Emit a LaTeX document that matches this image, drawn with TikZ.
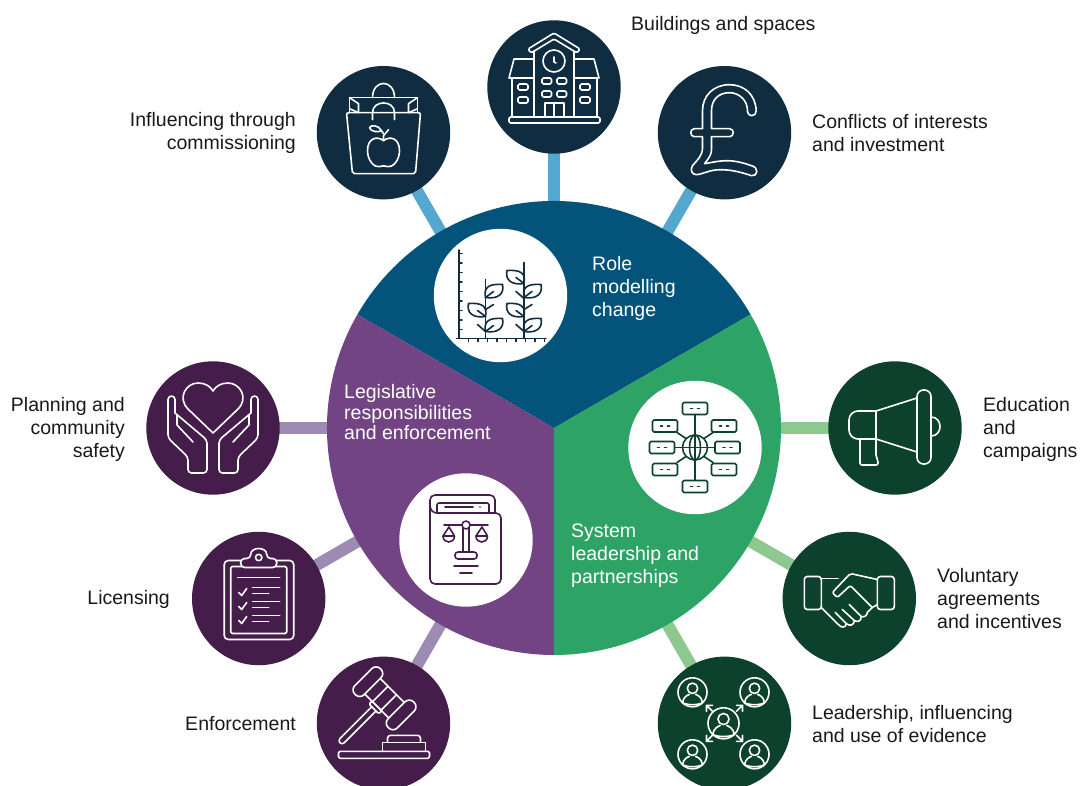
\documentclass[tikz,border=0pt]{standalone}
\usepackage{fontspec}
\setmainfont{Liberation Sans}
\usetikzlibrary{backgrounds}

\definecolor{rolehub}{HTML}{04537B}
\definecolor{rolesat}{HTML}{0F2C40}
\definecolor{rolelink}{HTML}{54A8CF}
\definecolor{lawhub}{HTML}{734484}
\definecolor{lawsat}{HTML}{451D4A}
\definecolor{lawlink}{HTML}{9E8BB3}
\definecolor{syshub}{HTML}{2EA366}
\definecolor{syssat}{HTML}{0C412D}
\definecolor{syslink}{HTML}{8DC88F}

\tikzset{
  sat/.style={circle, fill=#1, minimum size=133.4pt, inner sep=0pt, outer sep=0pt},
  spot/.style={circle, fill=white, minimum size=133.4pt, inner sep=0pt, outer sep=0pt},
  link/.style={line width=12pt, #1},
  icon/.style={line width=1.6pt, line join=round, line cap=round, draw=#1},
  txt/.style={font=\fontsize{19.5}{23}\selectfont, text=black!90, inner sep=0pt, align=#1},
  hubtxt/.style={font=\fontsize{19.5}{#1}\selectfont, text=white, inner sep=0pt, align=left, anchor=west},
  leaf/.pic={
    \draw (0,0) .. controls (-2,-10) and (3,-14) .. (17,-13) .. controls (19,-4) and (13,2) .. (0,0);
    \draw (0,0) -- (8,-6);
  },
  person/.pic={
    \draw (0,0) circle (14.5pt);
    \draw (0,-4) circle (5.2pt);
    \draw (-10,10.5) .. controls (-9,4) and (-5,3) .. (-3,2);
    \draw (10,10.5) .. controls (9,4) and (5,3) .. (3,2);
    \draw (-10,10.5) .. controls (-5,13) and (5,13) .. (10,10.5);
  },
  tag/.pic={
    \draw[rounded corners=1.5pt, fill=white] (-12.5,-6) rectangle (12.5,6);
    \draw (-4.5,0) -- (-2.5,0) (2.5,0) -- (4.5,0);
  },
}

\begin{document}
\begin{tikzpicture}[x=1pt, y=-1pt]

\useasboundingbox (0,0) rectangle (1083,786);

\node [circle, minimum size=454pt, inner sep=0pt, outer sep=0pt] (hub) at (554,428) {};

\node [sat=rolesat] (bag) at (383.5,132.7) {};
\node [sat=rolesat] (building) at (554,87) {};
\node [sat=rolesat] (pound) at (724.5,132.7) {};
\node [sat=syssat] (megaphone) at (895,428) {};
\node [sat=syssat] (handshake) at (849.3,598.5) {};
\node [sat=syssat] (people) at (724.5,723.3) {};
\node [sat=lawsat] (gavel) at (383.5,723.3) {};
\node [sat=lawsat] (clipboard) at (258.7,598.5) {};
\node [sat=lawsat] (hands) at (213,428) {};

\begin{scope}[on background layer]
\draw [link=rolelink] (hub.center) -- (bag.center);
\draw [link=rolelink] (hub.center) -- (building.center);
\draw [link=rolelink] (hub.center) -- (pound.center);
\draw [link=syslink] (hub.center) -- (megaphone.center);
\draw [link=syslink] (hub.center) -- (handshake.center);
\draw [link=syslink] (hub.center) -- (people.center);
\draw [link=lawlink] (hub.center) -- (gavel.center);
\draw [link=lawlink] (hub.center) -- (clipboard.center);
\draw [link=lawlink] (hub.center) -- (hands.center);
\end{scope}

% the three sectors
\fill [rolehub] (hub.center) -- (hub.30) arc [start angle=30, end angle=150, radius=227pt] -- cycle;
\fill [lawhub] (hub.center) -- (hub.150) arc [start angle=150, end angle=270, radius=227pt] -- cycle;
\fill [syshub] (hub.center) -- (hub.270) arc [start angle=270, end angle=390, radius=227pt] -- cycle;

\node [spot] (plants) at (500.5,295.5) {};
\node [spot] (network) at (695,447.5) {};
\node [spot] (book) at (466,540) {};

% bag
\begin{scope}[shift={(bag.center)}, icon=white]
\draw [rounded corners=2pt] (-37,-20) -- (37,-20) -- (32,41) -- (-31,41) -- cycle;
\draw (-34,-20) -- (-34,-35) -- (34,-35) -- (34,-20);
\draw (-34,-35) -- (-25,-29) -- (-25,-20) -- (-34,-24);
\draw (34,-35) -- (25,-29) -- (25,-20) -- (34,-24);
\draw (-11,-35) .. controls (-11,-54) and (11,-54) .. (11,-35);
\draw (-11,-13) -- (-11,-20) .. controls (-11,-33) and (11,-33) .. (11,-20) -- (11,-13);
\draw (0,8) .. controls (-6,3) and (-16,5) .. (-16,18) .. controls (-16,28) and (-9,35) .. (-4,34) .. controls (-2,33) and (2,33) .. (4,34) .. controls (9,35) and (16,28) .. (16,18) .. controls (16,5) and (6,3) .. (0,8);
\draw (0,8) -- (0,3) -- (5,-3);
\draw (0,1) -- (-2,-2) .. controls (-5,-8) and (-13,-8) .. (-14,-5) .. controls (-13,-1) and (-5,0) .. (-2,-2);
\end{scope}

% building
\begin{scope}[shift={(building.center)}, icon=white]
\draw [rounded corners=1.5pt] (-45,30) rectangle (46,36);
\draw (-20,30) -- (-20,-36) (20,30) -- (20,-36);
\draw [rounded corners=1.5pt] (0,-54) -- (26,-38) -- (23,-34) -- (0,-48) -- (-23,-34) -- (-26,-38) -- cycle;
\draw (0,-26) circle (11pt);
\draw (0,-30) -- (0,-25) -- (2,-24);
\draw (-20,-28) -- (-40,-28) -- (-45,-9) -- (-20,-9);
\draw (20,-28) -- (40,-28) -- (45,-9) -- (20,-9);
\draw (-42,-9) -- (-42,30) (43,-9) -- (43,30);
\foreach \wx in {-36,26} {
  \draw [rounded corners=1.5pt] (\wx,-3) rectangle ++(10,6);
  \draw [rounded corners=1.5pt] (\wx,10) rectangle ++(10,6);
}
\foreach \wx in {-12,3} {
  \draw [rounded corners=1.5pt] (\wx,-9) rectangle ++(9.5,6);
  \draw [rounded corners=1.5pt] (\wx,4) rectangle ++(9.5,6);
}
\draw (-9,30) -- (-9,16) -- (10,16) -- (10,30) (0,16) -- (0,30);
\end{scope}

% pound
\begin{scope}[shift={(pound.center)}, icon=white]
\draw (27,-17) .. controls (30,-17) and (32,-19) .. (31.7,-22) .. controls (31,-38) and (20,-48) .. (5,-48)
  .. controls (-11,-48) and (-22,-37) .. (-22,-22) -- (-22,-4) -- (-30,-4) .. controls (-35,-4) and (-35,4) .. (-30,4) -- (-22,4) -- (-22,15)
  .. controls (-22,23) and (-27,27) .. (-32,33) .. controls (-35,38) and (-32,42) .. (-28,42)
  .. controls (-20,41) and (-15,37) .. (-4,37) .. controls (8,37) and (18,40) .. (27,43)
  .. controls (33,44) and (35,35) .. (27,33) .. controls (16,29) and (8,28) .. (3,28)
  .. controls (-6,28) and (-14,30) .. (-20,31) .. controls (-16,26) and (-13,22) .. (-13,17) -- (-13,4) -- (5,4)
  .. controls (10,4) and (10,-4) .. (5,-4) -- (-13,-4) -- (-13,-22) .. controls (-13,-33) and (-6,-40) .. (5,-40)
  .. controls (15,-40) and (23,-32) .. (23,-22) -- (23,-21) .. controls (23,-19) and (25,-17) .. (27,-17);
\end{scope}

% megaphone
\begin{scope}[shift={(megaphone.center)}, icon=white]
\draw [rounded corners=6.5pt] (22,-38) rectangle (36,36);
\draw (22,-30) -- (-19,-17) -- (-19,11) -- (22,24);
\draw [rounded corners=9pt] (-19,-17) -- (-46,-17) -- (-46,11) -- (-19,11);
\draw [rounded corners=2pt] (-35,11) -- (-35,37) -- (-17,37) -- (-17,32) -- (-19,29) -- (-19,11);
\draw (36,-11) .. controls (48,-11) and (48,8) .. (36,8);
\end{scope}

% handshake
\begin{scope}[shift={(handshake.center)}, icon=white]
\draw [rounded corners=3pt] (-45,-22) rectangle (-28,11);
\draw [rounded corners=3pt] (28,-22) rectangle (45,11);
\draw (-28,-20) -- (-11,-20);
\draw [rounded corners=2pt] (28,-19) -- (1,-25) -- (-17,-6) -- (-12,-1) -- (1,-13) -- (23,9);
\draw (23,9) -- (28,6);
\draw (-28,9) -- (-11,26) .. controls (-8,30) and (-3,29) .. (-3,25) .. controls (0,28) and (5,27) .. (5,22)
  .. controls (8,24) and (12,23) .. (12,18) .. controls (15,19) and (18,17) .. (18,14) -- (23,9);
\draw (0,6) -- (12,18) (-7,11) -- (5,22) (-14,14) -- (-3,25);
\end{scope}

% people
\begin{scope}[shift={(people.center)}, icon=white]
\path (-32,-31) pic {person} (30,-31) pic {person} (-32,31) pic {person} (30,31) pic {person};
\path (-1,0) pic [scale=1.07] {person};
\draw (-12,-12) -- (-18,-18) (-18,-12) -- (-18,-18) -- (-12,-18);
\draw (12,-12) -- (18,-18) (18,-12) -- (18,-18) -- (12,-18);
\draw (-12,12) -- (-18,18) (-18,12) -- (-18,18) -- (-12,18);
\draw (12,12) -- (18,18) (18,12) -- (18,18) -- (12,18);
\end{scope}

% gavel
\begin{scope}[shift={(gavel.center)}, icon=white]
\draw [rounded corners=1.5pt] (-45,28) rectangle (46,35);
\draw (-1,28) -- (-1,19) -- (42,19) -- (42,28);
\draw [rounded corners=3pt] (4,19) -- (4,12) -- (37,12) -- (37,19);
\begin{scope}[shift={(1,-25)}, rotate=-45]
\draw [rounded corners=6pt] (-30,-18) rectangle (-17,18);
\draw [rounded corners=6pt] (17,-18) rectangle (30,18);
\draw (-17,-11) -- (17,-11) (-17,11) -- (17,11);
\draw (-6,-11) -- (-6,11) (6,-11) -- (6,11);
\draw [rounded corners=1.5pt] (-7,11) rectangle (7,15);
\draw [rounded corners=3pt] (-3,15) -- (-3,63) -- (3,63) -- (3,15);
\end{scope}
\end{scope}

% clipboard
\begin{scope}[shift={(clipboard.center)}, icon=white]
\draw [rounded corners=4pt] (-34.5,-38) rectangle (35,41);
\draw [rounded corners=1.5pt] (-28,-32) rectangle (28,35);
\draw [fill=lawsat, rounded corners=4pt] (-18,-40) -- (-8,-40) .. controls (-8,-52) and (8,-52) .. (8,-40) -- (18,-40) -- (18,-31) -- (-18,-31) -- cycle;
\draw (0,-41) circle (3.2pt);
\draw (-21,-21) -- (21,-21);
\foreach \ry in {0,14,28} {
  \draw (-6,-11+\ry) -- (21,-11+\ry);
  \draw (-6,-5+\ry) -- (10,-5+\ry);
  \draw (-20,-6+\ry) -- (-17,-3+\ry) -- (-12,-10+\ry);
}
\end{scope}

% hands with heart
\begin{scope}[shift={(hands.center)}, icon=white]
\draw (0,5) -- (-25,-19) .. controls (-36,-30) and (-27,-45) .. (-15,-45) .. controls (-8,-45) and (-3,-42) .. (0,-37)
  .. controls (3,-42) and (8,-45) .. (15,-45) .. controls (27,-45) and (36,-30) .. (25,-19) -- cycle;
\foreach \sd in {1,-1} {
  \begin{scope}[xscale=\sd]
  \draw [rounded corners=3.5pt] (-38,-15) -- (-38,-32) -- (-45,-32) -- (-45,10) -- (-25,29) -- (-25,45) -- (-6,45) -- (-6,12) -- (-38,-15);
  \draw (-36,-13) -- (-36,-3) -- (-20,14);
  \end{scope}
}
\end{scope}

% plants on a chart
\begin{scope}[shift={(plants.center)}, icon=rolesat]
\draw (-41.5,-45.5) -- (-41.5,43) (-44,43) -- (45.5,43);
\foreach \ty in {-42,-32.5,-23,-13.5,-4,5.5,15,24.5,34} {
  \draw (-41.5,\ty) -- (-38.5,\ty);
}
\foreach \tx in {-32,-22.5,-13,-3.5,6,15.5,25,34.5,44} {
  \draw (\tx,43) -- (\tx,46);
}
\draw (-15,-16) -- (-15,43) (23.5,-33) -- (23.5,43);
\path (-15,36) pic {leaf} (-15,2) pic {leaf} (-15,21) pic [xscale=-1] {leaf};
\path (23.5,36) pic {leaf} (23.5,2) pic {leaf} (23.5,21) pic [xscale=-1] {leaf} (23.5,-12) pic [xscale=-1] {leaf};
\draw (-23,29) -- (-15,36) (-15,14) -- (-7,9);
\draw (15.5,29) -- (23.5,36) (23.5,14) -- (31.5,9) (15.5,-4) -- (23.5,3);
\end{scope}

% network
\begin{scope}[shift={(network.center)}, icon=syssat]
\draw (0,-33) -- (0,33) (-20,0) -- (20,0);
\draw (-9,-9) -- (-18,-15) (9,-9) -- (18,-15) (-9,9) -- (-18,15) (9,9) -- (18,15);
\draw [fill=white] (0,0) circle (12.5pt);
\draw (0,0) ellipse (5.5pt and 12.5pt);
\draw (-12.5,0) -- (12.5,0) (0,-12.5) -- (0,12.5);
\path (0,-39) pic {tag} (0,39) pic {tag} (-33,0) pic {tag} (32.5,0) pic {tag};
\path (-30,-21.5) pic {tag} (29,-21.5) pic {tag} (-30,22) pic {tag} (29,22) pic {tag};
\end{scope}

% law book
\begin{scope}[shift={(book.center)}, icon=lawsat]
\draw [rounded corners=5pt] (29,-27) -- (29,-45) -- (-36,-45) -- (-36,44) -- (35,44) -- (35,-27) -- (-29,-27);
\draw (-36,-35) .. controls (-36,-30) and (-33,-27) .. (-29,-27);
\draw [rounded corners=2pt] (-29,-27) -- (-29,-37) -- (23,-37) -- (23,-27);
\draw (-21,-33) -- (7,-33);
\fill [lawsat] (14,-33) circle (0.8pt);
\draw (-22,-15) -- (22,-15);
\draw (-3,-12) -- (-3,12) (3,-12) -- (3,12);
\draw [fill=white] (0,-15) circle (4pt);
\draw [rounded corners=3pt] (-11,19) rectangle (11,12);
\draw (-17,-13) -- (-23,-4) -- (-11.5,-4) -- cycle (16,-13) -- (10,-4) -- (21.5,-4) -- cycle;
\draw (-23,-4) .. controls (-23,4) and (-11.5,4) .. (-11.5,-4);
\draw (10,-4) .. controls (10,4) and (21.5,4) .. (21.5,-4);
\draw (-12,26) -- (12,26) (-6,33) -- (6,33);
\end{scope}

% texts
\node [txt=left, anchor=west] (tbuilding) at (631,25) {Buildings and spaces};
\node [txt=left, anchor=west] (tpound) at (812,133.2) {Conflicts of interests\\and investment};
\node [txt=right, anchor=east] (tbag) at (296,133.2) {Influencing through\\commissioning};
\node [txt=right, anchor=east] (thands) at (125,429) {Planning and\\community\\safety};
\node [txt=right, anchor=east] (tclipboard) at (170,599) {Licensing};
\node [txt=right, anchor=east] (tgavel) at (296,724) {Enforcement};
\node [txt=left, anchor=west] (tmegaphone) at (983,429) {Education\\and\\campaigns};
\node [txt=left, anchor=west] (thandshake) at (937,599) {Voluntary\\agreements\\and incentives};
\node [txt=left, anchor=west] (tpeople) at (812,723.7) {Leadership, influencing\\and use of evidence};
\node [hubtxt=23] (trole) at (592,288) {Role\\modelling\\change};
\node [hubtxt=20.5] (tlaw) at (344,412.3) {Legislative\\responsibilities\\and enforcement};
\node [hubtxt=23] (tsys) at (571,556) {System\\leadership and\\partnerships};

\end{tikzpicture}
\end{document}
